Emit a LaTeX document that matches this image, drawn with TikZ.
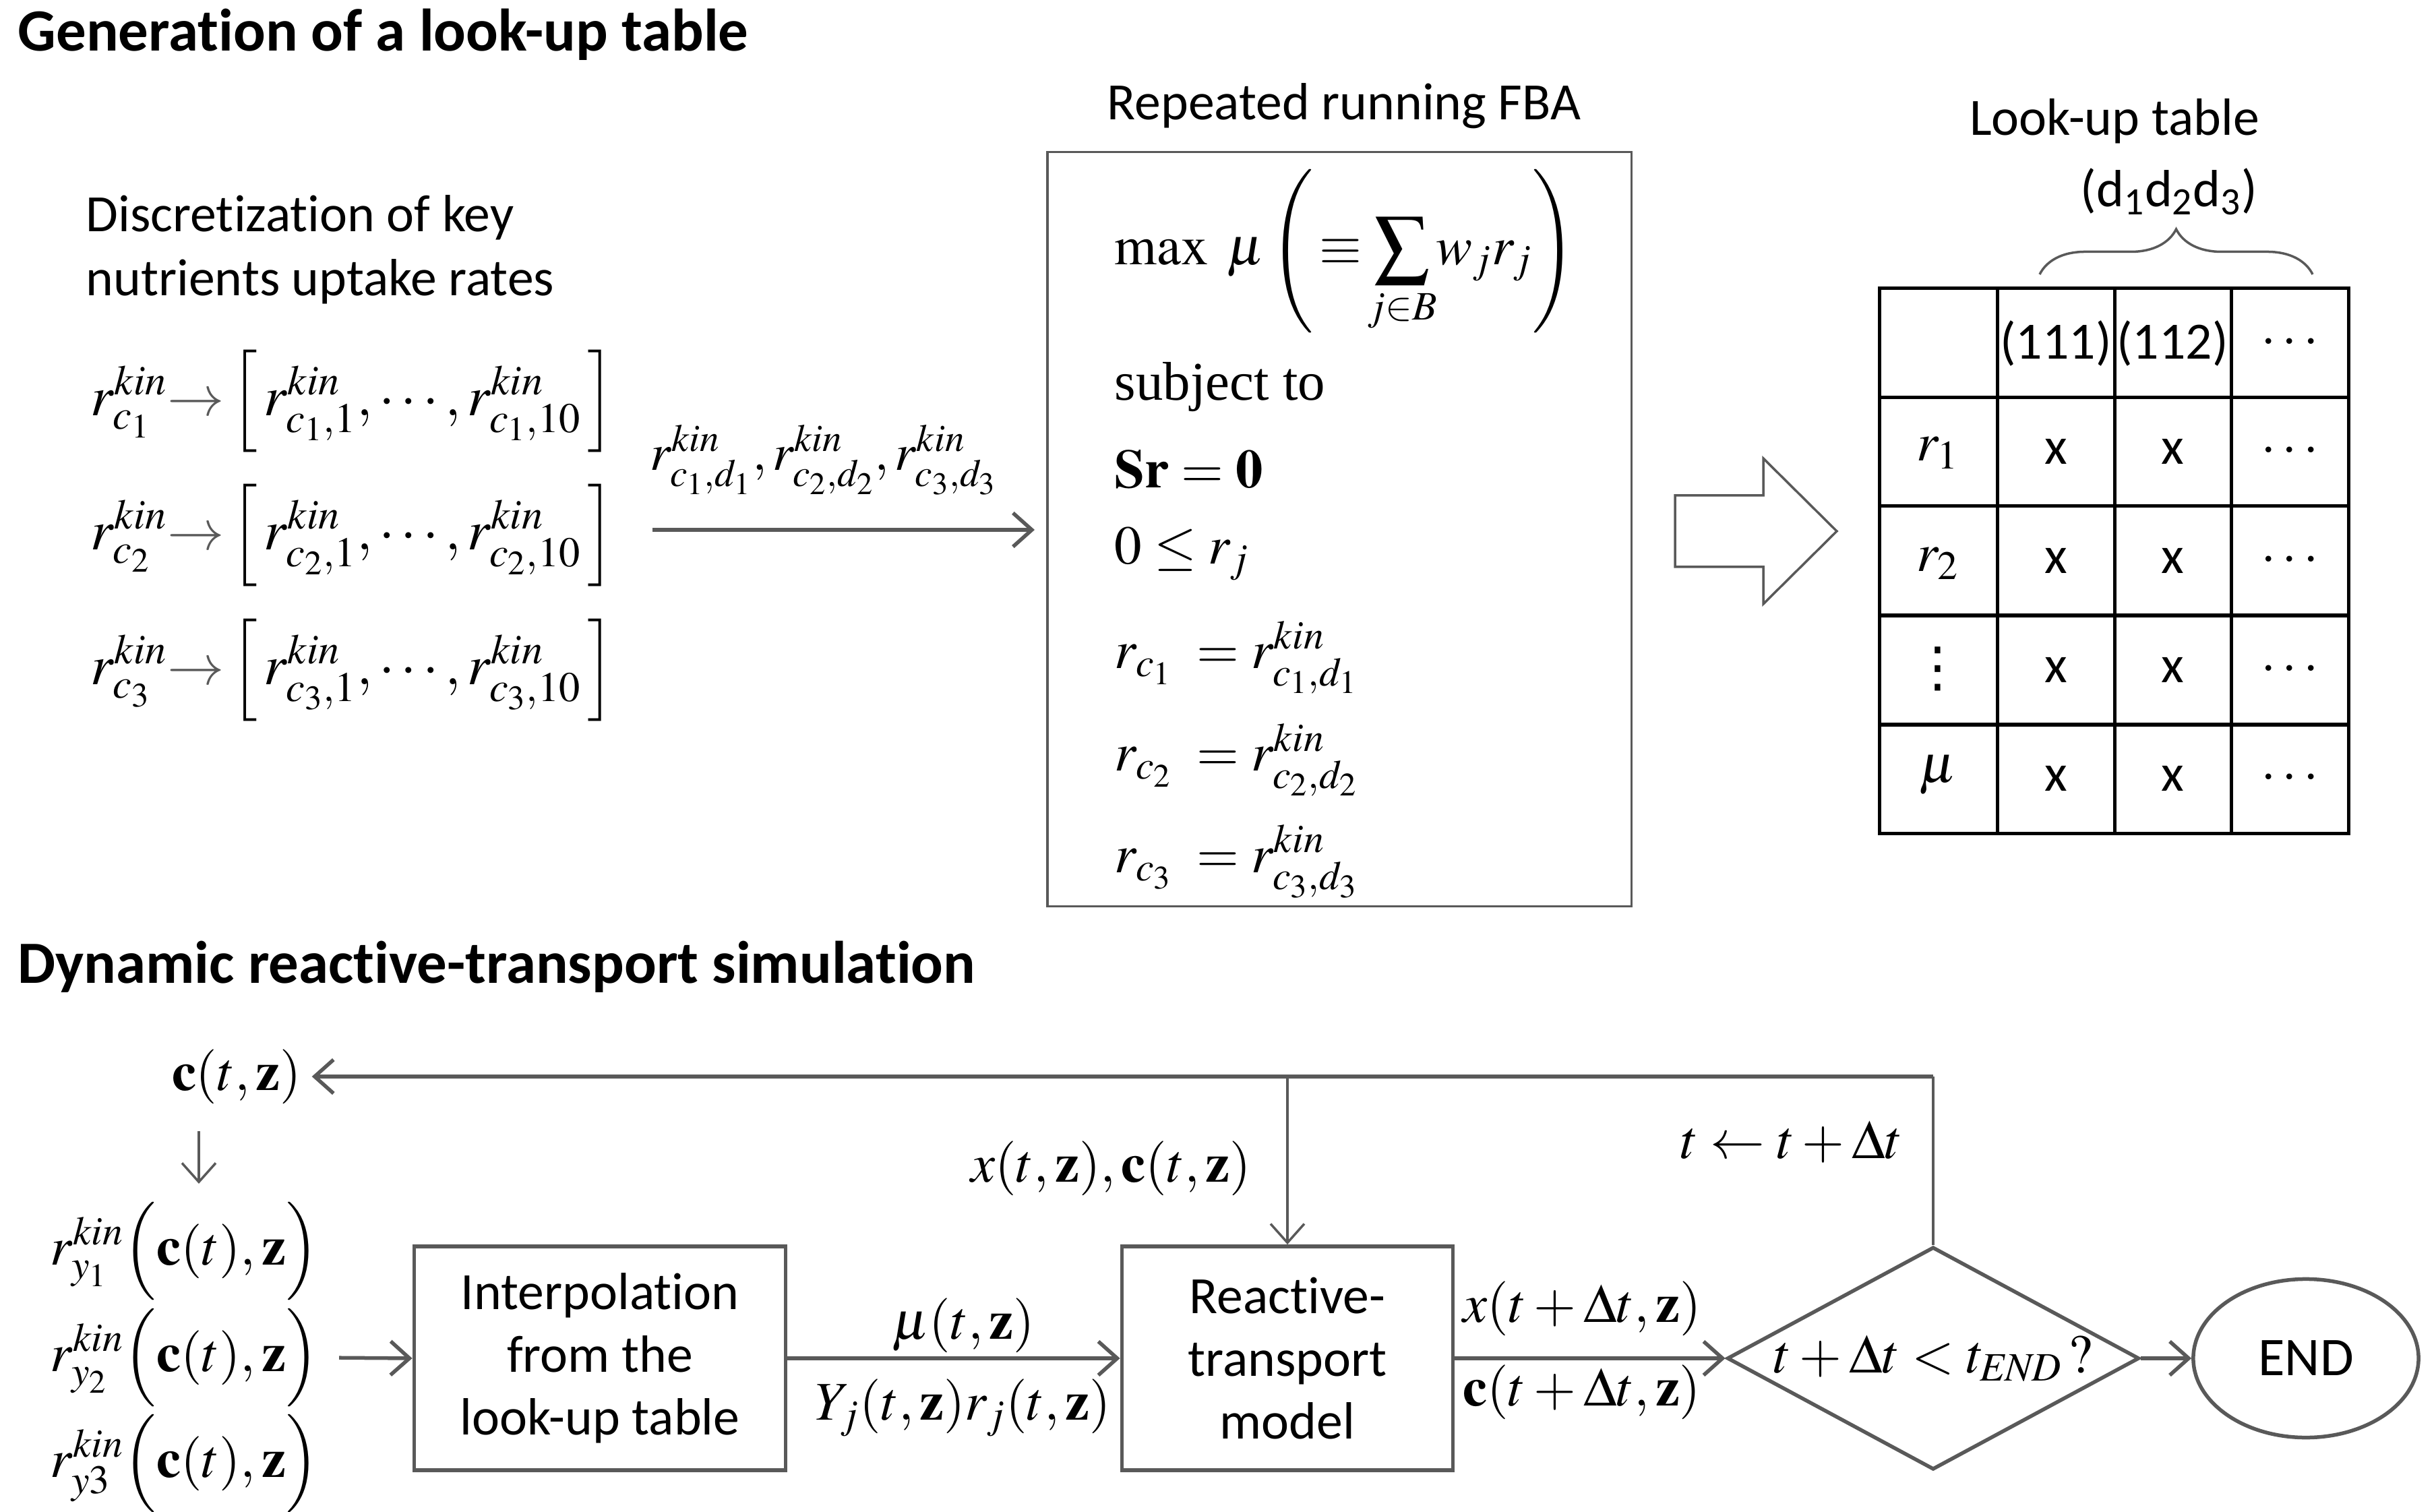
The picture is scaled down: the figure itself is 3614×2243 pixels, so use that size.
\documentclass[tikz,border=0pt]{standalone}
\usepackage{mathptmx}
\usepackage[no-math]{fontspec}
\setmainfont{Carlito}[Ligatures=NoCommon]
\newfontfamily\tnr{Liberation Serif}
\newfontfamily\djv{DejaVu Sans}
\newcommand{\limclap}[1]{\makebox[0pt]{$\scriptstyle #1$}}
\usetikzlibrary{arrows.meta,shapes.geometric,decorations.pathreplacing}
\definecolor{gcol}{RGB}{89,89,89}
\begin{document}
\begin{tikzpicture}[x=0.01cm,y=-0.01cm,
  sans/.style={font=\fontsize{22.1}{27}\selectfont, inner sep=0pt},
  ttl/.style={font=\fontsize{25.3}{30}\selectfont\bfseries, inner sep=0pt},
  mth/.style={font=\fontsize{23}{28}\selectfont, inner sep=0pt},
  gl/.style={draw=gcol, line width=0.055cm},
  glthin/.style={draw=gcol, line width=0.035cm},
  arr/.style={gl, -{Straight Barb[length=0.28cm,width=0.5cm]}},
  arrthin/.style={glthin, -{Straight Barb[length=0.28cm,width=0.5cm]}},
  tbl/.style={draw=black, line width=0.05cm},
  box/.style={gl, font=\fontsize{22.1}{26.5}\selectfont, align=center, inner sep=0pt},
  dia/.style={shape=diamond, gl, aspect=1.85, minimum width=6.11cm, minimum height=3.3cm, inner sep=0pt, font=\fontsize{23}{28}\selectfont},
  endn/.style={shape=ellipse, gl, minimum width=3.34cm, minimum height=2.35cm, inner sep=0pt, font=\fontsize{23}{28}\selectfont}
]
\useasboundingbox (0,0) rectangle (3614,2243);

% titles
\node[ttl, anchor=west] (t1) at (26,51) {Generation of a look-up table};
\node[ttl, anchor=west] (t2) at (26,1434) {Dynamic reactive-transport simulation};

% discretization
\node[sans, anchor=west, align=left] (disc) at (127,370) {Discretization of key\\nutrients uptake rates};
\node[mth, font=\fontsize{24}{28}\selectfont, anchor=west] (k1) at (134,595) {$r_{c_1}^{kin}\textcolor{gcol}{\rightarrow}\left[\,r_{c_1,1}^{kin},\cdots,r_{c_1,10}^{kin}\,\right]$};
\node[mth, font=\fontsize{24}{28}\selectfont, anchor=west] (k2) at (134,794) {$r_{c_2}^{kin}\textcolor{gcol}{\rightarrow}\left[\,r_{c_2,1}^{kin},\cdots,r_{c_2,10}^{kin}\,\right]$};
\node[mth, font=\fontsize{24}{28}\selectfont, anchor=west] (k3) at (134,994) {$r_{c_3}^{kin}\textcolor{gcol}{\rightarrow}\left[\,r_{c_3,1}^{kin},\cdots,r_{c_3,10}^{kin}\,\right]$};

% FBA
\node[sans] (fbat) at (1994,157) {Repeated running FBA};
\node[glthin, minimum width=8.66cm, minimum height=11.18cm, inner sep=0pt] (fba) at (1987,785) {};
\coordinate (a1) at (968,786);
\node[mth, font=\fontsize{22}{27}\selectfont] (klab) at (1222,682) {$r_{c_1,d_1}^{kin},r_{c_2,d_2}^{kin},r_{c_3,d_3}^{kin}$};
\draw[arr, shorten >=0.17cm] (a1) -- (fba.west |- a1);

\node[mth, anchor=west] (f1) at (1653,373) {$\displaystyle\max\ \mu\left(\,{\equiv}\,\sum_{\limclap{j\in B}}w_j r_j\right)$};
\node[mth, anchor=west] (f2) at (1653,574) {\tnr subject to};
\node[mth, anchor=west] (f3) at (1653,696) {$\mathbf{Sr}=\mathbf{0}$};
\node[mth, anchor=west] (f4) at (1653,822) {$0\le r_j$};
\node[mth, anchor=west] (f5) at (1653,975) {$r_{c_1}\ =r_{c_1,d_1}^{kin}$};
\node[mth, anchor=west] (f6) at (1653,1127) {$r_{c_2}\ =r_{c_2,d_2}^{kin}$};
\node[mth, anchor=west] (f7) at (1653,1278) {$r_{c_3}\ =r_{c_3,d_3}^{kin}$};

% block arrow
\draw[glthin, line join=miter] (2485,735) -- (2616,735) -- (2616,680) -- (2725,788) -- (2616,896) -- (2616,841) -- (2485,841) -- cycle;

% table
\draw[tbl] (2788,428) rectangle (3484,1236);
\foreach \xx in {2963,3137,3310} \draw[tbl] (\xx,428) -- (\xx,1236);
\foreach \yy in {590,751,913,1075} \draw[tbl] (2788,\yy) -- (3484,\yy);
\node[sans] (h2) at (3050,509) {(111)};
\node[sans] (h3) at (3223,509) {(112)};
\node[mth] (h4) at (3397,509) {$\cdots$};
\node[mth] (rA) at (2875,672) {$r_1$};
\node[mth] (rB) at (2875,836) {$r_2$};
\node[mth, font=\djv\fontsize{23}{28}\selectfont] (rC) at (2875,992) {⋮};
\node[mth] (rD) at (2875,1150) {$\mu$};
\foreach \yy/\nm in {670/a,832/b,994/c,1155/d}{
  \node[sans] (x1\nm) at (3050,\yy) {x};
  \node[sans] (x2\nm) at (3223,\yy) {x};
  \node[mth] (x3\nm) at (3397,\yy) {$\cdots$};
}
\draw[glthin, decorate, decoration={brace, amplitude=0.67cm}] (3026,407) -- (3431,407);
\node[sans] (lut) at (3137,180) {Look-up table};
\node[sans] (ddd) at (3218,284) {(d\textsubscript{1}d\textsubscript{2}d\textsubscript{3})};

% bottom
\node[mth] (ctz) at (351,1597) {$\mathbf{c}(t,\mathbf{z})$};
\coordinate (ds) at (295,1678);
\coordinate (de) at (295,1756);
\draw[arrthin] (ds) -- (de);
\node[mth, anchor=west] (ry1) at (74,1856) {$r_{y_1}^{kin}\Bigl(\mathbf{c}(t),\mathbf{z}\Bigr)$};
\node[mth, anchor=west] (ry2) at (74,2014) {$r_{y_2}^{kin}\Bigl(\mathbf{c}(t),\mathbf{z}\Bigr)$};
\node[mth, anchor=west] (ry3) at (74,2171) {$r_{y3}^{kin}\Bigl(\mathbf{c}(t),\mathbf{z}\Bigr)$};

\node[box, minimum width=5.51cm, minimum height=3.32cm] (interp) at (890,2015) {Interpolation\\from the\\look-up table};
\node[box, minimum width=4.91cm, minimum height=3.32cm] (react) at (1910,2015) {Reactive-\\transport\\model};
\node[dia] (dia) at (2868,2015) {$t+\Delta t<t_{\mathit{END}}\,?$};
\node[endn] (end) at (3421,2015) {END};

\draw[arr, shorten <=0.3cm] (ry2.east) -- (interp.west);
\draw[arr] (interp.east) -- (react.west);
\draw[arr] (react.east) -- (dia.west);
\draw[arr] (dia.east) -- (end.west);
\coordinate (corner) at (dia.north |- ctz.east);
\draw[glthin] (dia.north) -- (corner);
\draw[arr, shorten >=0.15cm] (corner) -- (ctz.east);
\draw[arrthin] (react.north |- corner) -- (react.north);

\node[mth] (lxc) at (1648,1733) {$x(t,\mathbf{z}),\mathbf{c}(t,\mathbf{z})$};
\node[mth] (lt) at (2658,1694) {$t\leftarrow t+\Delta t$};
\node[mth] (lmu) at (1429,1966) {$\mu(t,\mathbf{z})$};
\node[mth] (ly) at (1429,2088) {$Y_j(t,\mathbf{z})r_j(t,\mathbf{z})$};
\node[mth] (lx2) at (2347,1941) {$x(t+\Delta t,\mathbf{z})$};
\node[mth] (lc2) at (2347,2065) {$\mathbf{c}(t+\Delta t,\mathbf{z})$};
\end{tikzpicture}
\end{document}
